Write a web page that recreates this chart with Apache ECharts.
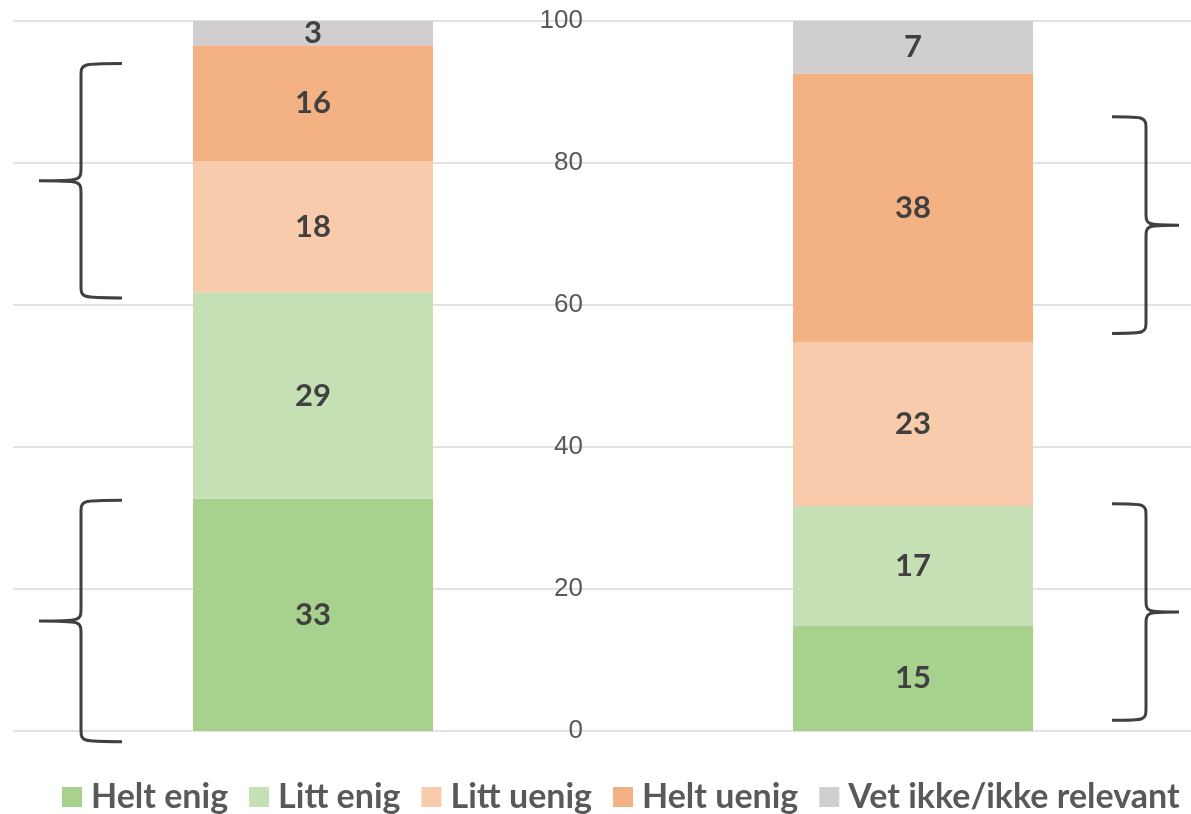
<html><head>
<meta charset="UTF-8">
<title>Helt enig / uenig</title>
<style>
  body { margin: 0; background: #fff; }
  #chart { width: 1191px; height: 814px; }
</style>
</head>
<body>
<div id="chart"></div>
<script src="https://cdn.jsdelivr.net/npm/echarts@6/dist/echarts.min.js"></script>
<script>
  // kategorier (to søyler)
  const categories = ['A', 'B'];
  const seriesNames = ['Helt enig', 'Litt enig', 'Litt uenig', 'Helt uenig', 'Vet ikke/ikke relevant'];
  const heltEnig = [32.7, 14.8];
  const littEnig = [29.1, 16.9];
  const littUenig = [18.4, 23.1];
  const heltUenig = [16.4, 37.8];
  const vetIkke = [3.4, 7.4];
  const yTicks = [0, 20, 40, 60, 80, 100];
  // klammer: [søyle, fra, til]
  const braces = [
    [0, 61, 94],
    [0, -1.5, 32.5],
    [1, 56, 86.5],
    [1, 1.5, 32]
  ];

  const colors = ['#a9d18e', '#c5e0b4', '#f8cbad', '#f4b183', '#d0cece'];
  const values = [heltEnig, littEnig, littUenig, heltUenig, vetIkke];

  function braceItem(params, api) {
    const cat = api.value(0);
    const top = api.coord([cat, api.value(2)]);
    const bot = api.coord([cat, api.value(1)]);
    const half = api.size([1, 0])[0] * 0.2; // halv søylebredde
    let xEnd, xStem, xTip;
    if (cat === 0) {
      xEnd = top[0] - half - 71; xStem = xEnd - 41; xTip = xStem - 42;
    } else {
      xEnd = top[0] + half + 79; xStem = xEnd + 34; xTip = xStem + 33;
    }
    const yT = top[1], yB = bot[1], yM = (yT + yB) / 2, r = 13;
    const d = [
      'M', xEnd, yT,
      'C', xStem, yT, xStem, yT, xStem, yT + r,
      'L', xStem, yM - r,
      'C', xStem, yM, xStem, yM, xTip, yM,
      'C', xStem, yM, xStem, yM, xStem, yM + r,
      'L', xStem, yB - r,
      'C', xStem, yB, xStem, yB, xEnd, yB
    ].join(' ');
    return {
      type: 'path',
      shape: { pathData: d },
      style: { fill: 'none', stroke: '#404040', lineWidth: 3 }
    };
  }

  const chart = echarts.init(document.getElementById('chart'));
  const series = seriesNames.map((name, i) => ({
    name: name,
    type: 'bar',
    stack: 'total',
    barWidth: '40%',
    data: values[i],
    itemStyle: { color: colors[i] },
    label: {
      show: true,
      position: 'inside',
      formatter: p => Math.round(p.value),
      fontFamily: 'Lato',
      fontWeight: 'bold',
      fontSize: 31,
      color: '#404040'
    }
  }));
  series.push({
    type: 'custom',
    renderItem: braceItem,
    data: braces,
    encode: { x: 0, y: [1, 2] },
    silent: true,
    clip: false,
    z: 5
  });

  chart.setOption({
    animation: false,
    grid: { left: 13, top: 21, width: 1200, bottom: 83, outerBoundsMode: 'none', containLabel: false },
    legend: {
      data: seriesNames,
      top: 775,
      left: 57,
      icon: 'rect',
      itemWidth: 20,
      itemHeight: 20,
      itemGap: 21,
      textStyle: {
        fontFamily: 'Lato',
        fontWeight: 'bold',
        fontSize: 34,
        color: '#595959',
        padding: [0, 0, 0, 4]
      }
    },
    xAxis: {
      type: 'category',
      data: categories,
      axisLine: { show: false },
      axisTick: { show: false },
      axisLabel: { show: false }
    },
    yAxis: {
      type: 'value',
      min: yTicks[0],
      max: yTicks[yTicks.length - 1],
      interval: 20,
      offset: -578,
      axisLine: { show: false },
      axisTick: { show: false },
      axisLabel: {
        margin: 8,
        fontFamily: 'Liberation Sans',
        fontSize: 26,
        color: '#595959'
      },
      splitLine: { lineStyle: { color: '#d9d9d9', width: 1.5 } }
    },
    series: series
  });
</script>
</body>
</html>
